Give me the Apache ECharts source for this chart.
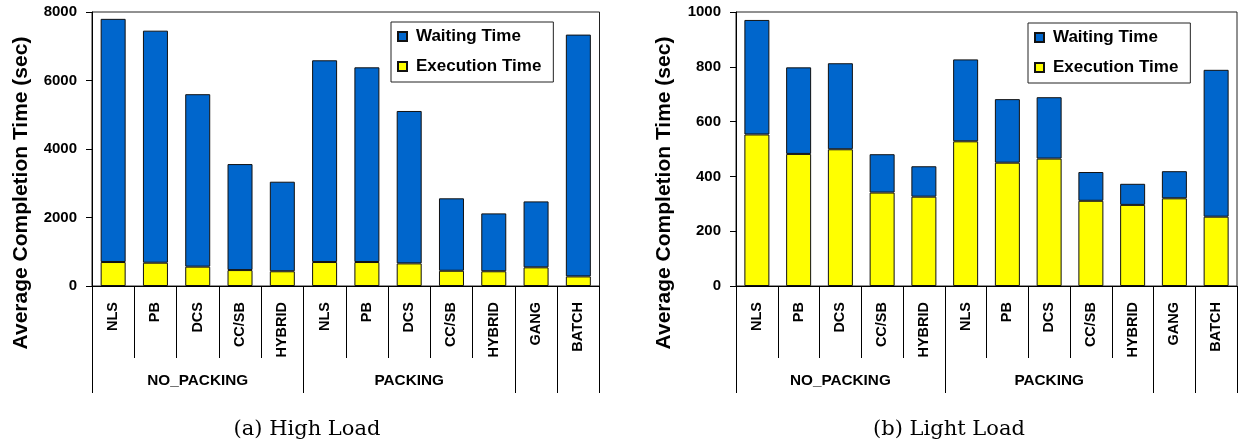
<!DOCTYPE html>
<html>
<head>
<meta charset="utf-8">
<script src="https://cdn.jsdelivr.net/npm/echarts@6/dist/echarts.min.js"></script>
<style>
html,body{margin:0;padding:0;background:#fff;}
#c{width:1244px;height:445px;}
</style>
</head>
<body>
<div id="c"></div>
<script>
// ---- data ----
var categories = ['NLS', 'PB', 'DCS', 'CC/SB', 'HYBRID', 'NLS', 'PB', 'DCS', 'CC/SB', 'HYBRID', 'GANG', 'BATCH'];
var groupNames = ['NO_PACKING', 'PACKING', '', ''];
var groupSpans = [5, 5, 1, 1];

var highWaiting   = [7100, 6775, 5035, 3095, 2615, 5890, 5685, 4450, 2115, 1690, 1925, 7060];
var highExecution = [700, 680, 565, 465, 430, 700, 700, 660, 445, 430, 545, 280];

var lightWaiting   = [418, 316, 314, 140, 111, 299, 232, 224, 105, 77, 99, 536];
var lightExecution = [553, 482, 499, 341, 326, 528, 450, 465, 311, 296, 320, 253];

var highTicks = {min: 0, max: 8000, interval: 2000};
var lightTicks = {min: 0, max: 1000, interval: 200};

var yTitle = 'Average Completion Time (sec)';
var captions = ['(a) High Load', '(b) Light Load'];
var seriesNames = ['Waiting Time', 'Execution Time'];

// ---- derived helpers ----
var groupStarts = [], groupCenters = {}, acc = 0;
groupSpans.forEach(function (s, i) {
  groupStarts.push(acc);
  groupCenters[acc + Math.floor((s - 1) / 2)] = groupNames[i];
  acc += s;
});
var groupAxisData = categories.map(function (c, i) { return 'g' + i; });

var FONT = 'Liberation Sans, Arial, sans-serif';
var BLUE = '#0066CC', YELLOW = '#FFFF00';

function primaryX(gridIndex) {
  return {
    type: 'category', gridIndex: gridIndex, data: categories, position: 'bottom',
    axisLine: {lineStyle: {color: '#000', width: 1}},
    axisTick: {show: true, interval: 0, length: 72, lineStyle: {color: '#000', width: 1}},
    axisLabel: {interval: 0, rotate: 90, margin: 16, color: '#000',
      fontFamily: FONT, fontWeight: 'bold', fontSize: 14.5},
    splitLine: {show: false}
  };
}
function groupX(gridIndex) {
  return {
    type: 'category', gridIndex: gridIndex, data: groupAxisData, position: 'bottom',
    axisLine: {show: false},
    axisTick: {show: true, length: 107, lineStyle: {color: '#000', width: 1},
      interval: function (idx) { return groupStarts.indexOf(idx) >= 0; }},
    axisLabel: {margin: 87, color: '#000', fontFamily: FONT, fontWeight: 'bold', fontSize: 15.3,
      interval: function (idx) { return groupCenters[idx] !== undefined; },
      formatter: function (v, idx) { return groupCenters[idx] || ''; }},
    splitLine: {show: false}
  };
}
function yAx(gridIndex, t) {
  return {
    type: 'value', gridIndex: gridIndex, min: t.min, max: t.max, interval: t.interval,
    axisLine: {show: true, lineStyle: {color: '#000', width: 1}},
    axisTick: {show: true, length: 6, lineStyle: {color: '#000'}},
    axisLabel: {margin: 15, color: '#000', fontFamily: FONT, fontWeight: 'bold', fontSize: 15,
      formatter: function (v) { return String(v); }},
    splitLine: {show: false}
  };
}
function barSeries(name, data, xi, yi, color, stack) {
  return {
    name: name, type: 'bar', stack: stack, xAxisIndex: xi, yAxisIndex: yi,
    data: data, barWidth: 25,
    itemStyle: {color: color, borderColor: '#111', borderWidth: 1},
    emphasis: {disabled: true}
  };
}
function legend(left, top) {
  return {
    orient: 'vertical', left: left, top: top, data: seriesNames,
    icon: 'rect', itemWidth: 9, itemHeight: 9, itemGap: 13,
    backgroundColor: '#fff', borderColor: '#222', borderWidth: 1,
    padding: [6, 12, 7, 6],
    selectedMode: false,
    textStyle: {fontFamily: FONT, fontWeight: 'bold', fontSize: 17, color: '#000', padding: [0, 0, 0, 4]}
  };
}
function textG(x, y, text, rot, font) {
  return {type: 'text', x: x, y: y, rotation: rot, silent: true,
    style: {text: text, font: font, fill: '#000', textAlign: 'center', textVerticalAlign: 'middle'}};
}

var chart = echarts.init(document.getElementById('c'), null, {renderer: 'canvas'});
chart.setOption({
  animation: false,
  backgroundColor: '#fff',
  grid: [
    {left: 92, top: 12, width: 507.5, height: 274, show: true, borderColor: '#222', borderWidth: 1, backgroundColor: 'transparent'},
    {left: 736, top: 12, width: 501, height: 274, show: true, borderColor: '#222', borderWidth: 1, backgroundColor: 'transparent'}
  ],
  legend: [legend(391, 22), legend(1028, 23)],
  xAxis: [primaryX(0), groupX(0), primaryX(1), groupX(1)],
  yAxis: [yAx(0, highTicks), yAx(1, lightTicks)],
  series: [
    barSeries(seriesNames[1], highExecution, 0, 0, YELLOW, 'h'),
    barSeries(seriesNames[0], highWaiting, 0, 0, BLUE, 'h'),
    barSeries(seriesNames[1], lightExecution, 2, 1, YELLOW, 'l'),
    barSeries(seriesNames[0], lightWaiting, 2, 1, BLUE, 'l')
  ],
  graphic: [
    textG(21, 193, yTitle, Math.PI / 2, 'bold 21px ' + FONT),
    textG(664, 193, yTitle, Math.PI / 2, 'bold 21px ' + FONT),
    textG(307, 430, captions[0], 0, '21px DejaVu Serif, serif'),
    textG(949, 430, captions[1], 0, '21px DejaVu Serif, serif')
  ]
});
</script>
</body>
</html>
